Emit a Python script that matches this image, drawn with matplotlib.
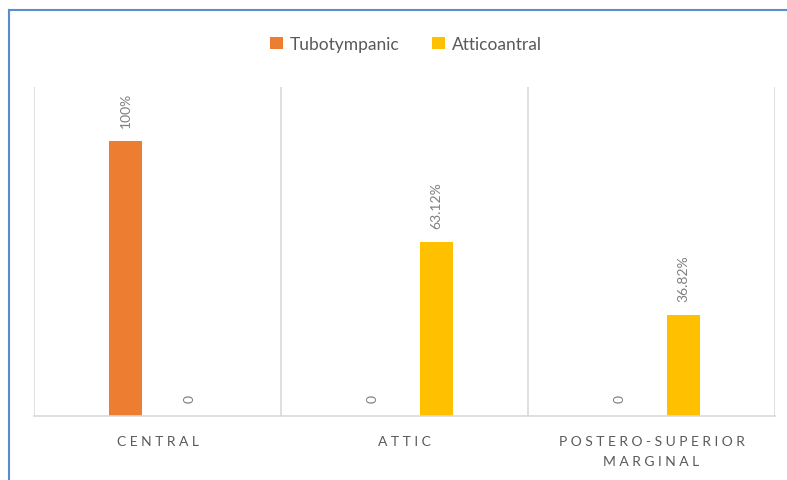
import numpy as np
import matplotlib.pyplot as plt
from matplotlib.lines import Line2D

plt.rcParams['font.family'] = ['Lato', 'DejaVu Sans']

# Data
categories = ["CENTRAL", "ATTIC", "POSTERO-SUPERIOR\nMARGINAL"]
series_names = ["Tubotympanic", "Atticoantral"]
tubotympanic = [100, 0, 0]
atticoantral = [0, 63.12, 36.82]
tubo_labels = ["100%", "0", "0"]
attic_labels = ["0", "63.12%", "36.82%"]
colors = ["#ED7D31", "#FFC000"]

def spaced(label):
    # letter-spaced look of the category labels
    return "\n".join(" ".join(line) for line in label.split("\n"))

fig = plt.figure(figsize=(7.87, 4.81), dpi=100)
ax = fig.add_axes([34 / 787, 1 - 417 / 481, (775 - 34) / 787, (417 - 88) / 481])

x = np.arange(len(categories))
w = 0.134
off = 0.129
b1 = ax.bar(x - off, tubotympanic, w, color=colors[0], label=series_names[0])
b2 = ax.bar(x + off, atticoantral, w, color=colors[1], label=series_names[1])

for bars, labels in [(b1, tubo_labels), (b2, attic_labels)]:
    for rect, lab in zip(bars, labels):
        ax.annotate(lab, (rect.get_x() + rect.get_width() / 2, rect.get_height()),
                    xytext=(0, 10), textcoords="offset points",
                    rotation=90, ha="center", va="bottom",
                    fontsize=10, color="#7F7F7F")

ax.set_xlim(-0.5, len(categories) - 0.5)
ax.set_ylim(0, 119.6)
for xv in np.arange(-0.5, len(categories), 1.0):
    ax.axvline(xv, color="#D9D9D9", lw=1.2, zorder=0)

for s in ["top", "right", "left"]:
    ax.spines[s].set_visible(False)
ax.spines["bottom"].set_color("#D9D9D9")
ax.spines["bottom"].set_linewidth(1.2)
ax.set_yticks([])
ax.set_xticks(x)
ax.set_xticklabels([spaced(c) for c in categories], fontsize=10, color="#595959",
                   linespacing=1.75)
ax.tick_params(axis="x", length=0, pad=14)

fig.legend(loc="center", bbox_to_anchor=(0.516, 1 - 45 / 481), ncol=2, frameon=False,
           fontsize=12.5, handlelength=0.75, handleheight=0.75, columnspacing=1.9,
           handletextpad=0.4, labelcolor="#595959")

# chart frame (top and left edges visible)
fig.add_artist(Line2D([9 / 787, 1], [1 - 11 / 481, 1 - 11 / 481], color="#5B8BD0", lw=1.5))
fig.add_artist(Line2D([9 / 787, 9 / 787], [0, 1 - 11 / 481], color="#5B8BD0", lw=1.5))

fig.savefig("out.png", dpi=100)
